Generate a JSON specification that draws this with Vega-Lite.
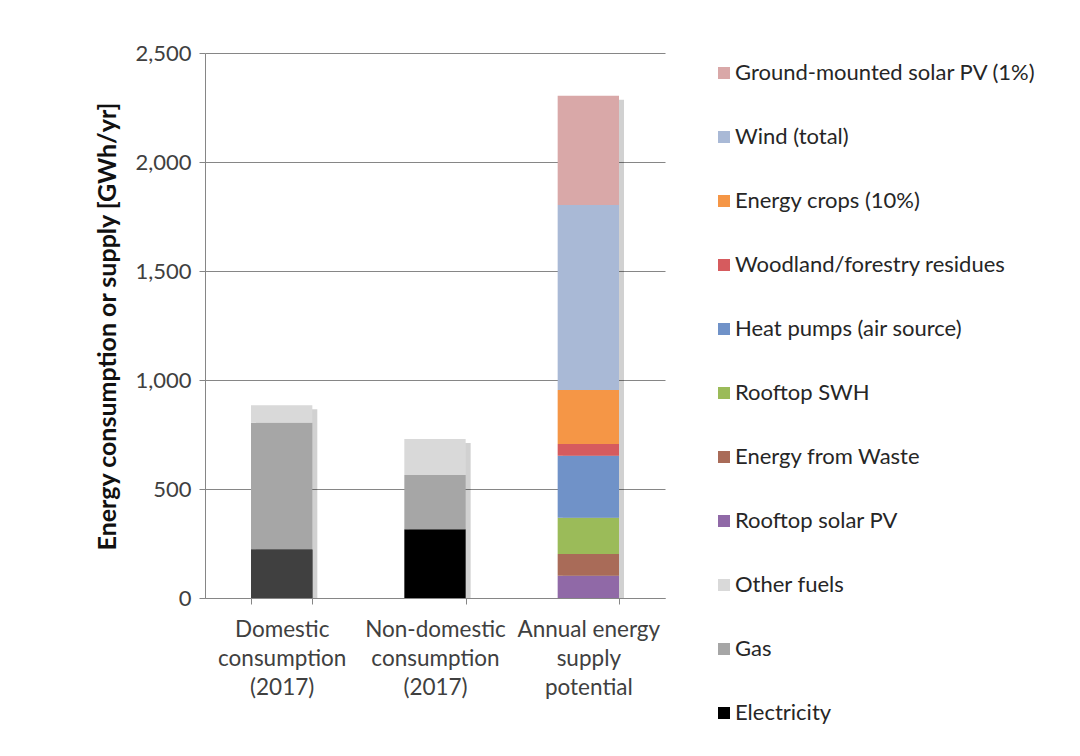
{
  "$schema": "https://vega.github.io/schema/vega-lite/v6.json",
  "width": 460,
  "height": 545,
  "autosize": {"type": "none"},
  "padding": {"left": 205, "top": 53, "right": 415, "bottom": 158},
  "background": "white",
  "config": {
    "font": "Lato",
    "view": {"stroke": null},
    "axis": {
      "domainColor": "#868686",
      "tickColor": "#868686",
      "gridColor": "#868686",
      "labelColor": "#404040",
      "labelFontSize": 22,
      "tickSize": 6
    },
    "axisY": {
      "grid": true,
      "labelPadding": 8,
      "titleFontSize": 25,
      "titleFontWeight": "bold",
      "titleColor": "#111111",
      "titleX": -98,
      "titleY": 273,
      "titleAngle": -90,
      "titleAlign": "center",
      "titleBaseline": "middle"
    },
    "axisX": {
      "grid": false,
      "labelAngle": 0,
      "tickBand": "extent",
      "labelPadding": 14,
      "labelLineHeight": 29,
      "labelBaseline": "top",
      "labelFontSize": 22.5
    },
    "legend": {
      "orient": "none",
      "legendX": 508,
      "legendY": 9,
      "symbolType": "square",
      "symbolSize": 144,
      "symbolStrokeWidth": 0,
      "labelFontSize": 22,
      "labelColor": "#262626",
      "labelOffset": 0,
      "rowPadding": 42,
      "padding": 0,
      "labelLimit": 400
    }
  },
  "data": {
    "values": [
      {"category": "Domestic consumption (2017)", "source": "Electricity", "value": 223},
      {"category": "Domestic consumption (2017)", "source": "Gas", "value": 581},
      {"category": "Domestic consumption (2017)", "source": "Other fuels", "value": 80},
      {"category": "Non-domestic consumption (2017)", "source": "Electricity", "value": 315},
      {"category": "Non-domestic consumption (2017)", "source": "Gas", "value": 249},
      {"category": "Non-domestic consumption (2017)", "source": "Other fuels", "value": 165},
      {"category": "Annual energy supply potential", "source": "Rooftop solar PV", "value": 102},
      {"category": "Annual energy supply potential", "source": "Energy from Waste", "value": 100},
      {"category": "Annual energy supply potential", "source": "Rooftop SWH", "value": 166},
      {"category": "Annual energy supply potential", "source": "Heat pumps (air source)", "value": 285},
      {"category": "Annual energy supply potential", "source": "Woodland/forestry residues", "value": 53},
      {"category": "Annual energy supply potential", "source": "Energy crops (10%)", "value": 248},
      {"category": "Annual energy supply potential", "source": "Wind (total)", "value": 849},
      {"category": "Annual energy supply potential", "source": "Ground-mounted solar PV (1%)", "value": 501}
    ]
  },
  "encoding": {
    "x": {
      "field": "category", "type": "nominal", "sort": null,
      "scale": {"paddingInner": 0.6, "paddingOuter": 0.3},
      "title": null,
      "axis": {"labelExpr": "datum.value == 'Annual energy supply potential' ? ['Annual energy','supply','potential'] : split(datum.label, ' ')"}
    }
  },
  "layer": [
    {
      "mark": {"type": "bar", "xOffset": 5, "yOffset": 4, "color": "#000000", "opacity": 0.18},
      "encoding": {
        "y": {
          "aggregate": "sum", "field": "value", "type": "quantitative",
          "scale": {"domain": [0, 2500]},
          "title": "Energy consumption or supply [GWh/yr]",
          "axis": {"values": [0, 500, 1000, 1500, 2000, 2500], "format": ",d"}
        }
      }
    },
    {
      "transform": [{"window": [{"op": "row_number", "as": "stack_rank"}], "groupby": ["category"]}],
      "mark": {"type": "bar"},
      "encoding": {
        "y": {
          "field": "value", "type": "quantitative",
          "scale": {"domain": [0, 2500]},
          "title": "Energy consumption or supply [GWh/yr]"
        },
        "order": {"field": "stack_rank", "type": "quantitative", "sort": "ascending"},
        "color": {
          "field": "source", "type": "nominal",
          "sort": ["Ground-mounted solar PV (1%)", "Wind (total)", "Energy crops (10%)", "Woodland/forestry residues", "Heat pumps (air source)", "Rooftop SWH", "Energy from Waste", "Rooftop solar PV", "Other fuels", "Gas", "Electricity"],
          "scale": {
            "domain": ["Ground-mounted solar PV (1%)", "Wind (total)", "Energy crops (10%)", "Woodland/forestry residues", "Heat pumps (air source)", "Rooftop SWH", "Energy from Waste", "Rooftop solar PV", "Other fuels", "Gas", "Electricity"],
            "range": ["#D9A8A8", "#A9B9D6", "#F59646", "#D65B5E", "#7092C8", "#9BBB59", "#A96B58", "#9069A7", "#D9D9D9", "#A6A6A6", "#000000"]
          },
          "legend": {"title": null}
        }
      }
    },
    {
      "transform": [{"filter": "datum.category == 'Domestic consumption (2017)' && datum.source == 'Electricity'"}],
      "mark": {"type": "bar", "color": "#404040"},
      "encoding": {
        "y": {
          "field": "value", "type": "quantitative",
          "scale": {"domain": [0, 2500]},
          "title": "Energy consumption or supply [GWh/yr]"
        }
      }
    }
  ]
}
